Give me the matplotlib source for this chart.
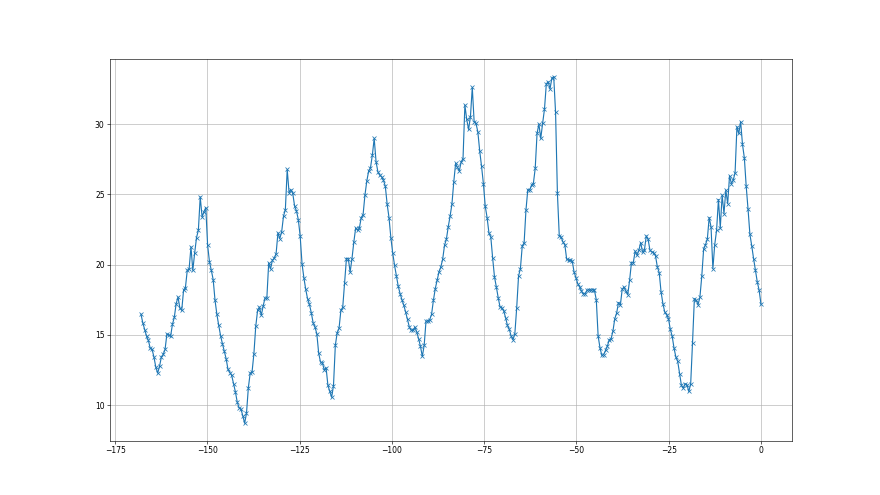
import numpy as np
import matplotlib
matplotlib.use('Agg')
import matplotlib.pyplot as plt

temps = [
    16.46, 15.84, 15.37, 14.91, 14.60, 14.03, 13.96, 13.42, 12.70, 12.28, 12.75, 13.42, 13.61, 13.96, 15.06, 14.99,
    14.91, 15.75, 16.25, 17.22, 17.69, 16.91, 16.74, 18.17, 18.36, 19.59, 19.69, 21.26, 19.59, 20.83, 21.92, 22.45,
    24.82, 23.40, 23.75, 24.06, 21.38, 20.19, 19.59, 18.93, 17.46, 16.46, 15.67, 14.94, 14.37, 13.85, 13.30, 12.54,
    12.32, 12.11, 11.52, 10.95, 10.21, 9.81, 9.73, 9.24, 8.71, 9.42, 11.23, 12.28, 12.35, 13.65, 15.60, 16.74, 16.98,
    16.39, 17.05, 17.62, 17.62, 20.12, 19.69, 20.31, 20.45, 20.78, 22.26, 21.85, 22.33, 23.44, 23.92, 26.77, 25.13,
    25.34, 25.06, 24.16, 23.82, 23.20, 22.04, 20.07, 19.07, 18.24, 17.57, 17.17, 16.58, 15.86, 15.55, 15.08, 13.70,
    13.06, 13.01, 12.51, 12.66, 11.40, 10.99, 10.56, 11.37, 14.25, 15.15, 15.46, 16.74, 16.96, 18.69, 20.43, 20.43,
    19.47, 20.43, 21.61, 22.61, 22.44, 22.61, 23.35, 23.56, 24.94, 25.94, 26.65, 26.89, 27.79, 28.98, 27.33, 26.60,
    26.36, 26.25, 26.01, 25.58, 24.30, 23.35, 21.92, 20.83, 19.95, 19.19, 18.45, 17.93, 17.50, 17.10, 16.62, 16.10,
    15.55, 15.32, 15.32, 15.55, 15.20, 14.72, 14.18, 13.46, 14.25, 15.98, 15.98, 16.08, 16.46, 17.46, 18.29, 18.88,
    19.47, 19.83,
    20.38, 21.37, 21.80, 22.68, 23.44, 24.30, 25.89, 27.20, 26.91, 26.67, 27.31, 27.55, 31.35, 30.33, 29.62, 30.52,
    32.61, 30.17, 30.05, 29.45, 28.10, 27.00, 25.77, 24.15, 23.35, 22.25, 21.97, 20.47, 19.12, 18.41, 17.65, 16.98,
    16.93,
    16.70, 16.22, 15.67, 15.39, 14.91, 14.65, 15.08, 16.93, 19.19, 19.71, 21.33, 21.54, 23.87, 25.34, 25.30, 25.65,
    25.77, 26.84, 29.34, 30.00, 28.98, 30.05, 31.05, 32.85, 33.02, 32.50, 33.26, 33.37, 30.83, 25.06, 22.04, 21.97,
    21.61,
    21.42, 20.38, 20.31, 20.31, 20.26, 19.47, 19.07, 18.64, 18.40, 18.12, 17.93, 17.93, 18.17, 18.22, 18.17, 18.22,
    18.17, 17.50, 14.91, 14.08, 13.53, 13.60, 13.89, 14.20, 14.65, 14.72, 15.27, 16.15, 16.55, 17.30,
    17.10, 18.24, 18.41, 18.10, 17.86, 18.88, 20.14, 20.14, 20.95, 20.66, 21.02, 21.57, 20.90, 21.02, 22.04, 21.80,
    21.02, 20.90, 20.85, 20.62, 19.83, 19.43, 18.05, 17.22, 16.62, 16.43, 16.15, 15.39, 14.91, 14.06, 13.42, 13.11,
    12.23,
    11.40, 11.21, 11.52, 11.44, 10.97, 11.50, 14.44, 17.57, 17.46, 17.15, 17.69, 19.17, 21.09, 21.42, 21.80, 23.35,
    22.68, 19.71, 21.42, 22.44, 24.63, 22.61, 24.94, 23.63, 25.30, 24.34, 26.32, 25.77, 26.01, 26.55, 29.81, 29.33,
    30.17, 28.55, 27.60, 25.58, 23.94, 22.16, 21.33, 20.42, 19.59, 18.76, 18.17, 17.17,
]

# hours before now, half-hourly readings
hours = np.linspace(-168, 0, len(temps))

fig, ax = plt.subplots(figsize=(16, 9), dpi=55)
ax.plot(hours, temps, marker='x')
ax.grid(True)
fig.savefig('out.png')
